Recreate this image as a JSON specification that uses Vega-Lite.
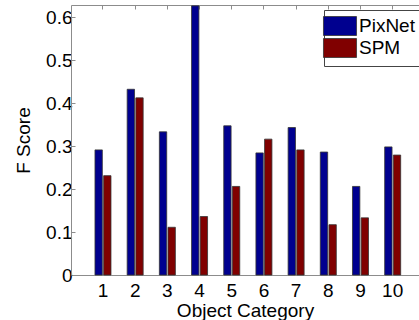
{
  "$schema": "https://vega.github.io/schema/vega-lite/v6.json",
  "width": 348,
  "height": 270,
  "autosize": {"type": "none"},
  "padding": {"left": 71, "top": 5, "right": 0, "bottom": 45},
  "background": "white",
  "config": {
    "view": {"stroke": null},
    "font": "Liberation Sans",
    "axis": {"labelFont": "Liberation Sans", "titleFont": "Liberation Sans", "labelColor": "#000", "titleColor": "#000", "titleFontWeight": "normal", "domainColor": "#8c8c8c", "tickColor": "#8c8c8c", "grid": false}
  },
  "data": {
    "values": [
      {"category": "1", "method": "PixNet", "score": 0.291},
      {"category": "1", "method": "SPM", "score": 0.231},
      {"category": "2", "method": "PixNet", "score": 0.432},
      {"category": "2", "method": "SPM", "score": 0.412},
      {"category": "3", "method": "PixNet", "score": 0.333},
      {"category": "3", "method": "SPM", "score": 0.111},
      {"category": "4", "method": "PixNet", "score": 0.626},
      {"category": "4", "method": "SPM", "score": 0.136},
      {"category": "5", "method": "PixNet", "score": 0.347},
      {"category": "5", "method": "SPM", "score": 0.206},
      {"category": "6", "method": "PixNet", "score": 0.284},
      {"category": "6", "method": "SPM", "score": 0.316},
      {"category": "7", "method": "PixNet", "score": 0.343},
      {"category": "7", "method": "SPM", "score": 0.291},
      {"category": "8", "method": "PixNet", "score": 0.286},
      {"category": "8", "method": "SPM", "score": 0.117},
      {"category": "9", "method": "PixNet", "score": 0.206},
      {"category": "9", "method": "SPM", "score": 0.133},
      {"category": "10", "method": "PixNet", "score": 0.298},
      {"category": "10", "method": "SPM", "score": 0.279}
    ]
  },
  "resolve": {"axis": {"x": "independent"}},
  "layer": [
    {
      "mark": {"type": "bar", "opacity": 0},
      "encoding": {
        "x": {
          "field": "category", "type": "ordinal", "sort": null,
          "axis": {"orient": "top", "labels": false, "title": null, "tickSize": -4, "domainColor": "#8c8c8c"}
        }
      }
    },
    {
      "mark": {"type": "bar", "stroke": "#333", "strokeWidth": 0.8},
      "encoding": {
        "x": {
          "field": "category", "type": "ordinal", "sort": null,
          "scale": {"paddingInner": 0.503, "paddingOuter": 0.657, "align": 0.567},
          "axis": {"orient": "bottom", "labelAngle": 0, "ticks": false, "labelFontSize": 19, "labelPadding": 6, "title": "Object Category", "titleFontSize": 19, "titlePadding": 1}
        },
        "xOffset": {"field": "method", "type": "nominal", "sort": ["PixNet", "SPM"], "scale": {"paddingInner": 0.15}},
        "y": {
          "field": "score", "type": "quantitative",
          "scale": {"domain": [0, 0.628], "nice": false, "zero": true},
          "axis": {"values": [0, 0.1, 0.2, 0.3, 0.4, 0.5, 0.6], "format": "~g", "tickSize": -4, "labelPadding": 3, "labelFontSize": 19, "title": "F Score", "titleFontSize": 19, "titlePadding": 12}
        },
        "color": {
          "field": "method", "type": "nominal",
          "scale": {"domain": ["PixNet", "SPM"], "range": ["#00008f", "#800000"]},
          "legend": {
            "title": null, "orient": "none", "legendX": 253, "legendY": 5,
            "symbolType": "M-1.74,-1H1.74V1H-1.74Z", "symbolSize": 361,
            "symbolStrokeColor": "#333", "symbolStrokeWidth": 0.8, "symbolOpacity": 1,
            "labelFontSize": 19, "labelOffset": 9, "labelFont": "Liberation Sans", "labelColor": "#000",
            "padding": 6, "rowPadding": -3,
            "strokeColor": "#444", "fillColor": "white"
          }
        }
      }
    }
  ]
}
